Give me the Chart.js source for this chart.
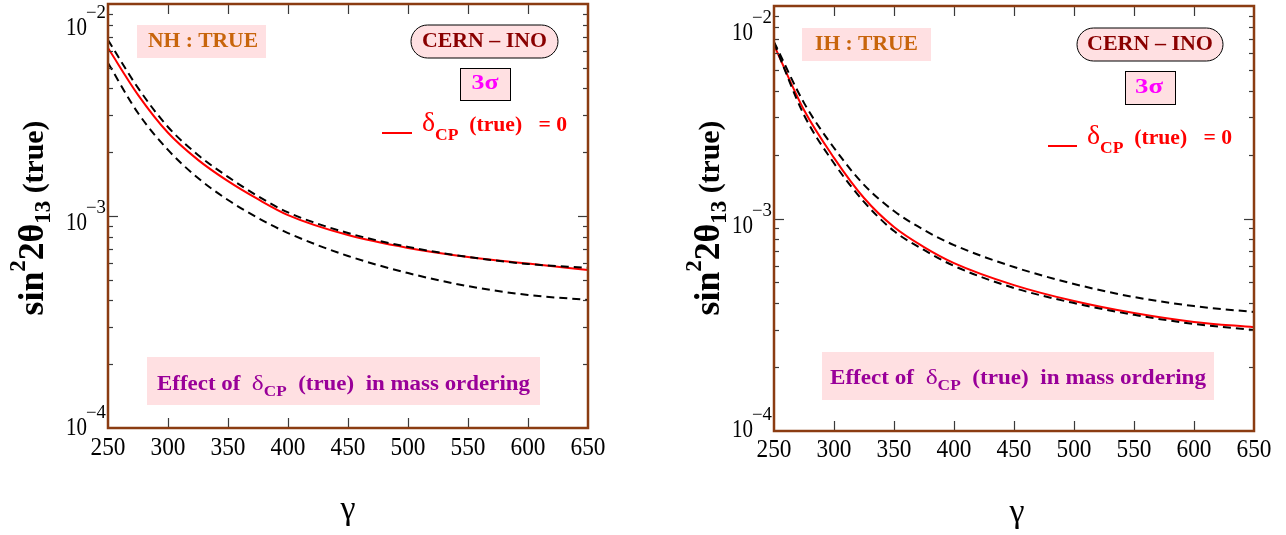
<!DOCTYPE html>
<html><head><meta charset="utf-8">
<script src="https://cdn.jsdelivr.net/npm/chart.js@4/dist/chart.umd.min.js"></script>
<style>
html,body{margin:0;padding:0;background:#fff;}
#wrap{position:relative;width:1286px;height:535px;overflow:hidden;background:#fff;}
canvas{position:absolute;top:0;}
</style></head><body>
<div id="wrap">
<canvas id="c1" width="643" height="535" style="left:0px"></canvas>
<canvas id="c2" width="643" height="535" style="left:643px"></canvas>
</div>
<script>
// ---- data ----
const gamma = [250,275,300,325,350,375,400,450,500,550,600,650];
const nhRed       = [6.20e-3,3.73e-3,2.47e-3,1.84e-3,1.46e-3,1.20e-3,1.01e-3,8.13e-4,7.07e-4,6.41e-4,5.97e-4,5.56e-4];
const nhDashUpper = [6.76e-3,4.02e-3,2.63e-3,1.94e-3,1.53e-3,1.24e-3,1.04e-3,8.31e-4,7.15e-4,6.41e-4,5.94e-4,5.69e-4];
const nhDashLower = [5.27e-3,3.06e-3,2.05e-3,1.51e-3,1.19e-3,9.79e-4,8.31e-4,6.48e-4,5.38e-4,4.67e-4,4.24e-4,4.02e-4];
const ihRed       = [6.55e-3,3.24e-3,1.93e-3,1.249e-3,9.12e-4,7.34e-4,6.17e-4,4.86e-4,4.09e-4,3.59e-4,3.26e-4,3.08e-4];
const ihDashUpper = [6.78e-3,3.50e-3,2.15e-3,1.44e-3,1.084e-3,8.83e-4,7.50e-4,5.91e-4,4.92e-4,4.27e-4,3.87e-4,3.63e-4];
const ihDashLower = [6.70e-3,3.07e-3,1.82e-3,1.197e-3,8.73e-4,7.11e-4,5.98e-4,4.71e-4,4.00e-4,3.52e-4,3.19e-4,2.99e-4];
const xTicks = [250,300,350,400,450,500,550,600,650];
const yDecades = [-2,-3,-4];
const hierarchyLabels = ['NH : TRUE','IH : TRUE'];
const experimentLabel = 'CERN – INO';
const sigmaLabel = '3σ';

const FAM = '"Liberation Serif", "Times New Roman", Times, serif';
const PINK = '#ffe0e2';

function drawRich(ctx, segs, x, y, o){
  let w = 0; const ms = [];
  const fontOf = s => (s.b===false ? 'normal 400 ' : 'normal 700 ') + s.f + 'px ' + FAM;
  for (const s of segs){
    ctx.font = fontOf(s);
    const mw = ctx.measureText(s.t).width; ms.push(mw); w += mw;
  }
  const sx = o.width ? o.width / w : 1;
  const total = w * sx;
  const start = o.align==='center' ? x - total/2 : (o.align==='right' ? x - total : x);
  ctx.save();
  ctx.translate(start, y); ctx.scale(sx, 1);
  ctx.fillStyle = o.color || '#000'; ctx.textBaseline = 'alphabetic'; ctx.textAlign = 'left';
  let cx = 0;
  segs.forEach((s,i)=>{
    ctx.font = fontOf(s);
    ctx.fillText(s.t, cx, s.dy||0); cx += ms[i];
  });
  ctx.restore();
}
function roundRect(ctx,x,y,w,h,r){
  ctx.beginPath();
  ctx.moveTo(x+r,y); ctx.lineTo(x+w-r,y); ctx.arcTo(x+w,y,x+w,y+r,r);
  ctx.lineTo(x+w,y+h-r); ctx.arcTo(x+w,y+h,x+w-r,y+h,r);
  ctx.lineTo(x+r,y+h); ctx.arcTo(x,y+h,x,y+h-r,r);
  ctx.lineTo(x,y+r); ctx.arcTo(x,y,x+r,y,r); ctx.closePath();
}

const layouts = {
  c1: { hier: hierarchyLabels[0], hb:{x:137,y:25,w:129,h:33}, ht:{x:203,y:47,w:110},
        cb:{x:411,y:25,w:147,h:33}, ct:{x:484.5,y:47,w:125},
        sb:{x:460,y:68,w:50,h:32}, st:{x:485,y:89,w:27},
        leg:{x1:382,x2:412,y:133,tx:422,ty:131,w:145},
        eb:{x:147,y:357,w:393,h:48}, et:{x:343.5,y:390,w:373},
        yt:{x:43,y:218,w:195}, xt:{x:348,y:519},
        xTickBase:455, yLabRight:87, yTopOff:31, yBotOff:7 },
  c2: { hier: hierarchyLabels[1], hb:{x:159,y:28,w:129,h:33}, ht:{x:223.5,y:50,w:103},
        cb:{x:434,y:28,w:146,h:33}, ct:{x:507,y:50,w:126},
        sb:{x:482,y:71,w:50,h:33}, st:{x:506,y:92.5,w:28},
        leg:{x1:405,x2:434,y:146,tx:444,ty:144,w:145},
        eb:{x:179,y:352,w:392,h:48}, et:{x:375,y:384,w:376},
        yt:{x:76,y:218,w:195}, xt:{x:374,y:522},
        xTickBase:457, yLabRight:110, yTopOff:34, yBotOff:6 }
};

const decor = {
  id:'decor',
  afterDraw(chart){
    const L = layouts[chart.canvas.id];
    const ctx = chart.ctx, a = chart.chartArea, xs = chart.scales.x, ys = chart.scales.y;
    ctx.save();
    // ticks
    ctx.strokeStyle = '#3a3a3a'; ctx.lineWidth = 1.2;
    const seg = (x1,y1,x2,y2)=>{ctx.beginPath();ctx.moveTo(x1,y1);ctx.lineTo(x2,y2);ctx.stroke();};
    for (const v of xTicks){
      if (v===xs.min || v===xs.max) continue;
      const px = Math.round(xs.getPixelForValue(v))+0.5;
      seg(px,a.bottom,px,a.bottom-10); seg(px,a.top,px,a.top+10);
    }
    for (const d of [-4,-3]){
      for (let m=1;m<=9;m++){
        const v = m*Math.pow(10,d);
        if (v<=ys.min*1.0001) continue;
        const py = Math.round(ys.getPixelForValue(v))+0.5;
        const len = m===1 ? 10 : 5;
        seg(a.left,py,a.left+len,py); seg(a.right,py,a.right-len,py);
      }
    }
    // frame
    ctx.strokeStyle = '#8b3c12'; ctx.lineWidth = 2.5;
    ctx.strokeRect(a.left, a.top, a.right-a.left, a.bottom-a.top);
    // x tick labels
    for (const v of xTicks){
      drawRich(ctx,[{t:String(v),f:26,b:false}], xs.getPixelForValue(v), L.xTickBase, {align:'center',width:35,color:'#000'});
    }
    // y tick labels
    for (const d of yDecades){
      const py = ys.getPixelForValue(Math.pow(10,d));
      const base = Math.min(Math.max(py+14, a.top+L.yTopOff), a.bottom+L.yBotOff);
      drawRich(ctx,[{t:'10',f:26,b:false}], L.yLabRight, base, {align:'right',width:21,color:'#000'});
      drawRich(ctx,[{t:'−'+Math.abs(d),f:18,b:false}], L.yLabRight-1, base-17, {align:'left',width:20,color:'#000'});
    }
    // axis titles
    ctx.save(); ctx.translate(L.yt.x, L.yt.y); ctx.rotate(-Math.PI/2);
    drawRich(ctx,[{t:'sin',f:36},{t:'2',f:23,dy:-18},{t:'2θ',f:36},{t:'13',f:23,dy:7},{t:' (true)',f:30}],0,0,{align:'center',width:L.yt.w,color:'#000'});
    ctx.restore();
    drawRich(ctx,[{t:'γ',f:34,b:false}], L.xt.x, L.xt.y, {align:'center',color:'#000'});
    // hierarchy box
    ctx.fillStyle = PINK; ctx.fillRect(L.hb.x,L.hb.y,L.hb.w,L.hb.h);
    drawRich(ctx,[{t:L.hier,f:22}], L.ht.x, L.ht.y, {align:'center',width:L.ht.w,color:'#c8650c'});
    // experiment box
    roundRect(ctx,L.cb.x,L.cb.y,L.cb.w,L.cb.h,L.cb.h/2);
    ctx.fillStyle = PINK; ctx.fill(); ctx.strokeStyle='#000'; ctx.lineWidth=1; ctx.stroke();
    drawRich(ctx,[{t:experimentLabel,f:22}], L.ct.x, L.ct.y, {align:'center',width:L.ct.w,color:'#8a0000'});
    // sigma box
    ctx.fillStyle = PINK; ctx.fillRect(L.sb.x,L.sb.y,L.sb.w,L.sb.h);
    ctx.strokeStyle='#000'; ctx.lineWidth=1; ctx.strokeRect(L.sb.x+0.5,L.sb.y+0.5,L.sb.w,L.sb.h);
    drawRich(ctx,[{t:sigmaLabel,f:21}], L.st.x, L.st.y, {align:'center',width:L.st.w,color:'#ff00ff'});
    // legend
    ctx.strokeStyle='#ff0000'; ctx.lineWidth=2; seg(L.leg.x1,L.leg.y,L.leg.x2,L.leg.y);
    drawRich(ctx,[{t:'δ',f:27,b:false},{t:'CP',f:17,dy:9},{t:'  (true)',f:21},{t:'   = 0',f:21}], L.leg.tx, L.leg.ty, {align:'left',width:L.leg.w,color:'#ff0000'});
    // effect box
    ctx.fillStyle = PINK; ctx.fillRect(L.eb.x,L.eb.y,L.eb.w,L.eb.h);
    drawRich(ctx,[{t:'Effect of  ',f:20},{t:'δ',f:22,b:false},{t:'CP',f:15,dy:6},{t:'  (true)  in mass ordering',f:20}], L.et.x, L.et.y, {align:'center',width:L.et.w,color:'#990099'});
    ctx.restore();
  }
};

function pts(arr){ return gamma.map((g,i)=>({x:g,y:arr[i]})); }
function makeChart(id, red, up, low, pad){
  return new Chart(document.getElementById(id), {
    type:'line',
    data:{datasets:[
      {data:pts(up), borderColor:'#000', borderWidth:2, borderDash:[8,5], pointRadius:0, cubicInterpolationMode:'monotone', fill:false},
      {data:pts(low), borderColor:'#000', borderWidth:2, borderDash:[8,5], pointRadius:0, cubicInterpolationMode:'monotone', fill:false},
      {data:pts(red), borderColor:'#ff0000', borderWidth:2, pointRadius:0, cubicInterpolationMode:'monotone', fill:false}
    ]},
    options:{
      responsive:false, animation:false, devicePixelRatio:1, events:[],
      layout:{padding:pad},
      plugins:{legend:{display:false}, tooltip:{enabled:false}},
      scales:{
        x:{type:'linear', min:250, max:650, display:false},
        y:{type:'logarithmic', min:1e-4, max:1e-2, display:false}
      }
    },
    plugins:[decor]
  });
}
makeChart('c1', nhRed, nhDashUpper, nhDashLower, {left:108,right:55,top:4,bottom:107});
makeChart('c2', ihRed, ihDashUpper, ihDashLower, {left:131,right:32,top:6,bottom:104});
</script>
</body></html>
